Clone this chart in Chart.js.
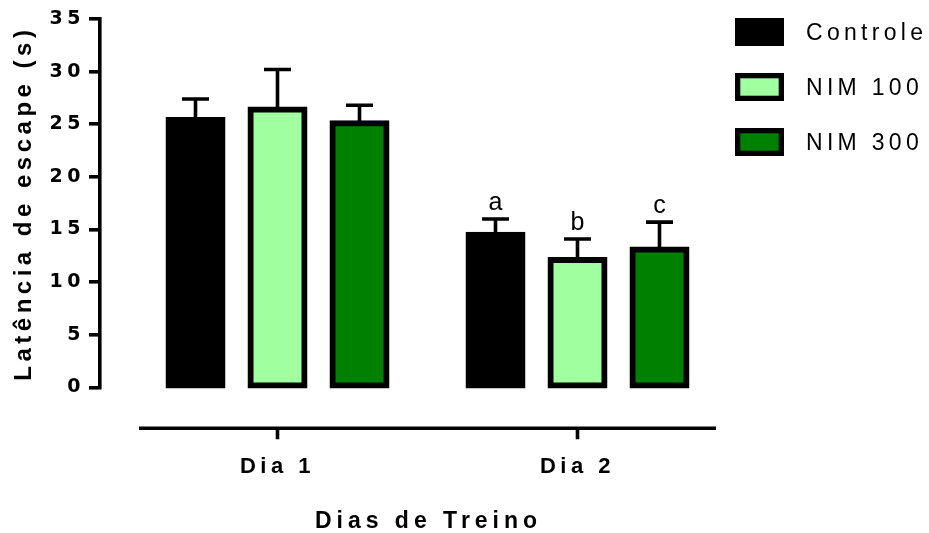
<!DOCTYPE html>
<html>
<head>
<meta charset="utf-8">
<title>Latência de escape</title>
<script src="https://cdn.jsdelivr.net/npm/chart.js@4.4.1/dist/chart.umd.min.js"></script>
<style>
  html, body { margin: 0; padding: 0; background: #ffffff; }
  canvas { display: block; }
</style>
</head>
<body>
<canvas id="chart" width="929" height="533"></canvas>
<script>
// ---- data -------------------------------------------------------------
const CATEGORIES = ['Dia 1', 'Dia 2'];
const SERIES = ['Controle', 'NIM 100', 'NIM 300'];

// mean escape latency (s)
const CONTROLE = [25.4, 14.5];
const NIM_100 = [26.4, 12.1];
const NIM_300 = [25.1, 13.1];

// mean + SEM (top of each error bar)
const CONTROLE_ERR = [27.4, 16.0];
const NIM_100_ERR = [30.2, 14.1];
const NIM_300_ERR = [26.8, 15.7];

// significance letters above the bars
const CONTROLE_MARK = ['', 'a'];
const NIM_100_MARK = ['', 'b'];
const NIM_300_MARK = ['', 'c'];

const Y_TICKS = [0, 5, 10, 15, 20, 25, 30, 35];

const X_TITLE = 'Dias de Treino';
const Y_TITLE = 'Latência de escape (s)';

// ---- style ------------------------------------------------------------
const FONT = '"Liberation Sans", Arial, Helvetica, sans-serif';
const DIGIT_FONT = '"DejaVu Sans", "Liberation Sans", Arial, sans-serif';
const FILLS = ['#000000', '#a0ff9f', '#008000'];
const AXIS_W = 3.6;
const CAP_W = 27;
const TEXT_SPACING = '4.5px';

// ---- plugins ----------------------------------------------------------
// wide letter spacing used by the axis texts
const spacedText = {
  id: 'spacedText',
  beforeLayout(chart) { chart.ctx.letterSpacing = TEXT_SPACING; },
  beforeDraw(chart) { chart.ctx.letterSpacing = TEXT_SPACING; }
};

// detached category axis below the plot, with its tick marks and title
const detachedXAxis = {
  id: 'detachedXAxis',
  afterDraw(chart) {
    const { ctx, chartArea, scales: { x } } = chart;
    const gap = 41, tick = 11, overhang = 138.5;
    const yLine = chartArea.bottom + gap;
    const first = x.getPixelForValue(1);
    const last = x.getPixelForValue(CATEGORIES.length);
    ctx.save();
    ctx.strokeStyle = '#000';
    ctx.lineWidth = AXIS_W;
    ctx.lineCap = 'butt';
    ctx.beginPath();
    ctx.moveTo(first - overhang, yLine);
    ctx.lineTo(last + overhang, yLine);
    CATEGORIES.forEach((c, i) => {
      const px = x.getPixelForValue(i + 1);
      ctx.moveTo(px, yLine);
      ctx.lineTo(px, yLine + tick);
    });
    ctx.stroke();

    ctx.letterSpacing = '5px';
    ctx.font = 'bold 23px ' + FONT;
    ctx.fillStyle = '#000';
    ctx.textAlign = 'center';
    ctx.textBaseline = 'middle';
    ctx.fillText(X_TITLE, (first + last) / 2 + 1, chartArea.bottom + 134.5);
    ctx.restore();
  }
};

// SEM error bars (upper half) and significance letters
const errorBars = {
  id: 'errorBars',
  afterDatasetsDraw(chart) {
    const { ctx, scales: { y } } = chart;
    ctx.save();
    ctx.strokeStyle = '#000';
    ctx.fillStyle = '#000';
    ctx.lineWidth = AXIS_W;
    ctx.lineCap = 'butt';
    ctx.letterSpacing = '0px';
    ctx.font = 'normal 25px ' + FONT;
    ctx.textAlign = 'center';
    ctx.textBaseline = 'alphabetic';
    chart.data.datasets.forEach((ds, di) => {
      const meta = chart.getDatasetMeta(di);
      meta.data.forEach((bar, i) => {
        const base = y.getPixelForValue(ds.data[i].y);
        const top = y.getPixelForValue(ds.errTop[i]);
        ctx.beginPath();
        ctx.moveTo(bar.x, base);
        ctx.lineTo(bar.x, top);
        ctx.moveTo(bar.x - CAP_W / 2, top);
        ctx.lineTo(bar.x + CAP_W / 2, top);
        ctx.stroke();
        if (ds.marks[i]) {
          ctx.fillText(ds.marks[i], bar.x, top - 9);
        }
      });
    });
    ctx.restore();
  }
};

// legend column on the right
const sideLegend = {
  id: 'sideLegend',
  afterDraw(chart) {
    const { ctx, chartArea } = chart;
    const left = chartArea.right + 19, top = 18, step = 55;
    const w = 49, h = 28, border = 5.3, textGap = 71;
    ctx.save();
    ctx.letterSpacing = '4.3px';
    ctx.font = 'normal 23px ' + FONT;
    ctx.textAlign = 'left';
    ctx.textBaseline = 'middle';
    chart.data.datasets.forEach((ds, i) => {
      const y0 = top + i * step;
      ctx.fillStyle = ds.borderColor;
      ctx.fillRect(left, y0, w, h);
      ctx.fillStyle = ds.backgroundColor;
      ctx.fillRect(left + border, y0 + border, w - 2 * border, h - 2 * border);
      ctx.fillStyle = '#000';
      ctx.fillText(ds.label, left + textGap, y0 + h / 2 + 1.5);
    });
    ctx.restore();
  }
};

// ---- chart ------------------------------------------------------------
function points(values) {
  return CATEGORIES.map((c, i) => ({ x: i + 1, y: values[i] }));
}

function series(i, values, err, marks) {
  return {
    label: SERIES[i],
    data: points(values),
    errTop: err,
    marks: marks,
    backgroundColor: FILLS[i],
    borderColor: '#000000',
    borderWidth: 6,
    borderSkipped: false,
    inflateAmount: 3,
    categoryPercentage: 0.82,
    barPercentage: 0.6585,
    clip: false
  };
}

Chart.defaults.font.family = FONT;
Chart.defaults.color = '#000';

new Chart(document.getElementById('chart'), {
  type: 'bar',
  data: {
    datasets: [
      series(0, CONTROLE, CONTROLE_ERR, CONTROLE_MARK),
      series(1, NIM_100, NIM_100_ERR, NIM_100_MARK),
      series(2, NIM_300, NIM_300_ERR, NIM_300_MARK)
    ]
  },
  options: {
    responsive: false,
    animation: false,
    devicePixelRatio: 1,
    layout: { padding: { left: 0, top: 19, right: 213, bottom: 0 } },
    plugins: {
      legend: { display: false },
      tooltip: { enabled: false }
    },
    scales: {
      x: {
        type: 'linear',
        offset: false,
        min: 0.4083,
        max: 2.4617,
        grid: { display: false, drawTicks: false, offset: false },
        border: { display: false },
        afterBuildTicks(scale) {
          scale.ticks = CATEGORIES.map((c, i) => ({ value: i + 1 }));
        },
        afterFit(scale) { scale.height = 145.7; },
        ticks: {
          autoSkip: false,
          maxRotation: 0,
          padding: 66,
          font: { size: 22, weight: 'bold' },
          color: '#000',
          callback: (v) => CATEGORIES[v - 1]
        }
      },
      y: {
        type: 'linear',
        min: 0,
        max: 35,
        afterBuildTicks(scale) {
          scale.ticks = Y_TICKS.map(v => ({ value: v }));
        },
        afterFit(scale) { scale.width = 100; },
        grid: {
          drawOnChartArea: false,
          drawTicks: true,
          tickLength: 11,
          lineWidth: AXIS_W,
          color: '#000'
        },
        border: { display: true, width: AXIS_W, color: '#000' },
        ticks: {
          padding: 4,
          font: { family: DIGIT_FONT, size: 19, weight: 'bold' },
          color: '#000'
        },
        title: {
          display: true,
          text: Y_TITLE,
          font: { size: 24, weight: 'bold' },
          color: '#000',
          padding: { top: 10, bottom: 0 }
        }
      }
    }
  },
  plugins: [spacedText, errorBars, detachedXAxis, sideLegend]
});
</script>
</body>
</html>
